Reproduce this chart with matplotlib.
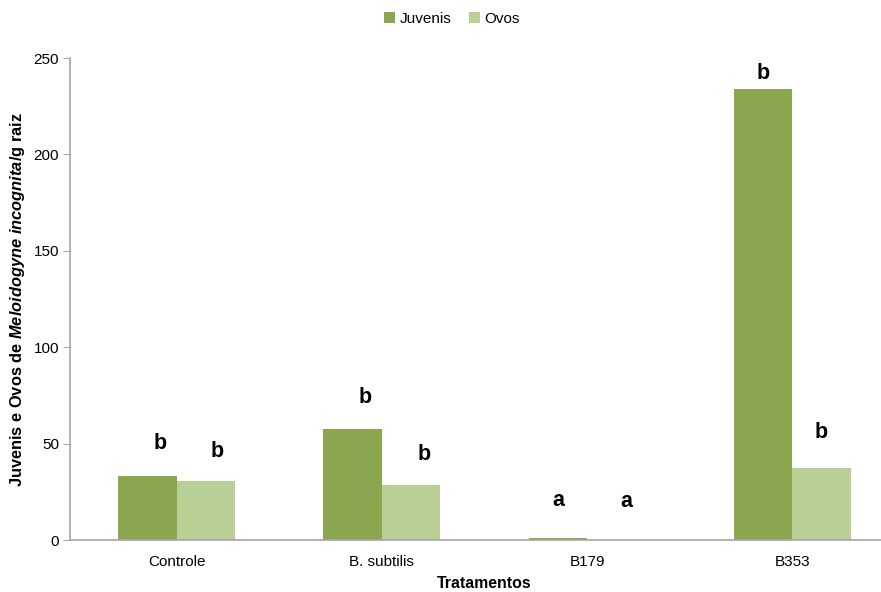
import matplotlib
matplotlib.use("Agg")
import matplotlib.pyplot as plt
import numpy as np

plt.rcParams['font.family'] = ['Liberation Sans', 'DejaVu Sans']
plt.rcParams['mathtext.fontset'] = 'custom'
plt.rcParams['mathtext.it'] = 'Liberation Sans:italic:bold'
plt.rcParams['mathtext.rm'] = 'Liberation Sans:bold'

# tratamentos e contagens por grama de raiz
tratamentos = ["Controle", "B. subtilis", "B179", "B353"]
juvenis = [33.1, 57.8, 1.2, 234.0]
ovos = [30.5, 28.6, 0.0, 37.4]
letras_juvenis = ["b", "b", "a", "b"]
letras_ovos = ["b", "b", "a", "b"]

cor_juv = "#8aa64e"
cor_ovo = "#b9cf96"
cinza = "#a6a6a6"

# deslocamento das letras (pontos) acima de cada barra
dx_juv = [9, 9, 0, 0]
dy_juv = [16, 15, 19, 3.5]
dx_ovo = [8, 9, 7, 0]
dy_ovo = [13.5, 14.5, 20.5, 18]

fig = plt.figure(figsize=(8.81, 5.92), dpi=100)
ax = fig.add_axes([70/881, 52/592, 811/881, 482/592])

x = np.arange(len(tratamentos))
w = 0.285
b1 = ax.bar(x - w/2, juvenis, w, color=cor_juv, label="Juvenis")
b2 = ax.bar(x + w/2, ovos, w, color=cor_ovo, label="Ovos")

for xi, v, l, dx, dy in zip(x - w/2, juvenis, letras_juvenis, dx_juv, dy_juv):
    ax.annotate(l, (xi, v), xytext=(dx, dy), textcoords="offset points",
                ha="center", va="bottom", fontsize=15.5, fontweight="bold")
for xi, v, l, dx, dy in zip(x + w/2, ovos, letras_ovos, dx_ovo, dy_ovo):
    ax.annotate(l, (xi, v), xytext=(dx, dy), textcoords="offset points",
                ha="center", va="bottom", fontsize=15.5, fontweight="bold")

ax.set_xlim(-0.52, 3.432)
ax.set_ylim(0, 250)
ax.set_yticks(np.arange(0, 251, 50))
ax.set_xticks(x)
ax.set_xticklabels(tratamentos, fontsize=11)
ax.tick_params(axis="y", labelsize=11, length=5, color=cinza, pad=3)
ax.tick_params(axis="x", length=0, pad=11)

for s in ["top", "right"]:
    ax.spines[s].set_visible(False)
for s in ["left", "bottom"]:
    ax.spines[s].set_color(cinza)
    ax.spines[s].set_linewidth(1.2)

fig.text(18/881, 1 - 300/592,
         r"Juvenis e Ovos de $Meloidogyne\ incognita$/g raiz",
         rotation=90, ha="center", va="center", fontsize=11.8, fontweight="bold")
fig.text(484/881, 1 - 583/592, "Tratamentos", ha="center", va="center",
         fontsize=11.4, fontweight="bold")

fig.legend(handles=[b1, b2], loc="center", bbox_to_anchor=(452/881, 1 - 19/592),
           ncol=2, frameon=False, fontsize=11, handlelength=0.7, handleheight=0.7,
           handletextpad=0.3, columnspacing=1.2)

fig.savefig("out.png", dpi=100)
